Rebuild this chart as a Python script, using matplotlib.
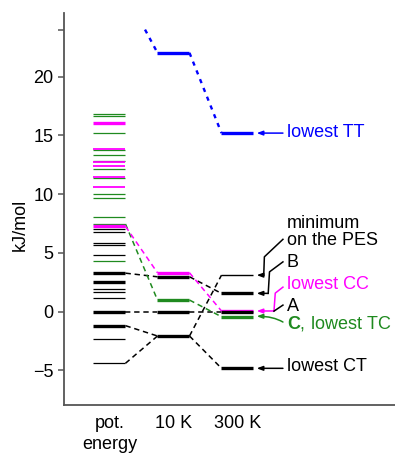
import matplotlib
matplotlib.use('Agg')
import matplotlib.pyplot as plt

plt.rcParams['font.family'] = ['Liberation Sans', 'DejaVu Sans']
plt.rcParams['mathtext.fontset'] = 'custom'
plt.rcParams['mathtext.bf'] = 'Liberation Sans:bold'
plt.rcParams['mathtext.rm'] = 'Liberation Sans'

MAGENTA = '#ff00ff'
GREEN = '#1f8a1f'
BLUE = '#0000ff'

# column labels (x positions 0, 1, 2)
columns = ['pot.\nenergy', '10 K', '300 K']

# potential energy levels, kJ/mol
pot_black_thin = [7.02, 6.80, 5.85, 5.68, 4.80, 1.88, 1.70, 1.12, -2.34, -4.40]
pot_black_thick = [3.27, 2.53, 0.0, -1.20]
pot_green = [16.84, 16.67, 15.22, 13.72, 13.36, 12.79, 12.11, 11.37,
             10.04, 9.67, 8.06, 7.45, 4.30]
pot_magenta = [13.83, 12.70, 12.39, 11.48, 10.60]
pot_magenta_thick = [16.07, 7.25]

# 10 K levels
k10_black = [2.96, 0.0, -2.08]
k10_green = [0.98]
k10_magenta = [3.30]
k10_blue = [22.02]

# 300 K levels
k300_black_thin = [3.10]
k300_black = [1.55, 0.0, -4.83]
k300_green = [-0.44]
k300_magenta = [0.05]
k300_blue = [15.19]

# dashed links: (from column, from value, to column, to value, colour)
links = [
    (0, 3.27, 1, 2.96, 'black'),
    (0, 0.0, 1, 0.0, 'black'),
    (0, -1.20, 1, -2.08, 'black'),
    (0, -4.40, 1, -2.08, 'black'),
    (0, 7.45, 1, 0.98, GREEN),
    (0, 7.25, 1, 3.30, MAGENTA),
    (1, 2.96, 2, 1.55, 'black'),
    (1, 0.0, 2, 0.0, 'black'),
    (1, -2.08, 2, 3.10, 'black'),
    (1, -2.08, 2, -4.83, 'black'),
    (1, 0.98, 2, -0.44, GREEN),
    (1, 3.30, 2, 0.05, MAGENTA),
    (1, 22.02, 2, 15.19, BLUE),
]
# blue TT link coming in from above the pot. energy column
tt_entry = (0.555, 24.0)

HW = 0.25  # half width of a level line


def levels(ax, col, values, color, lw):
    for v in values:
        ax.plot([col - HW, col + HW], [v, v], color=color, lw=lw,
                solid_capstyle='butt', zorder=3)


fig = plt.figure(figsize=(3.95, 4.53), dpi=100)
ax = fig.add_axes([0.162, 0.106, 0.838, 0.865])

for c0, v0, c1, v1, color in links:
    if color == BLUE:
        ax.plot([c0 + HW, c1 - HW], [v0, v1], color=color, lw=1.7,
                dashes=(1.8, 2.2), zorder=2)
    else:
        ax.plot([c0 + HW, c1 - HW], [v0, v1], color=color, lw=1.1,
                dashes=(3.5, 2.5), zorder=2)
ax.plot([tt_entry[0], 1 - HW], [tt_entry[1], k10_blue[0]], color=BLUE,
        lw=1.7, dashes=(1.8, 2.2), zorder=2)

levels(ax, 0, pot_green, GREEN, 0.9)
levels(ax, 0, pot_magenta, MAGENTA, 1.3)
levels(ax, 0, pot_magenta_thick, MAGENTA, 2.4)
levels(ax, 0, pot_black_thin, 'black', 0.9)
levels(ax, 0, pot_black_thick, 'black', 2.4)

levels(ax, 1, k10_blue, BLUE, 2.4)
levels(ax, 1, k10_magenta, MAGENTA, 2.4)
levels(ax, 1, k10_green, GREEN, 2.4)
levels(ax, 1, k10_black, 'black', 2.4)

levels(ax, 2, k300_blue, BLUE, 2.4)
levels(ax, 2, k300_magenta, MAGENTA, 2.4)
levels(ax, 2, k300_green, GREEN, 2.4)
levels(ax, 2, k300_black_thin, 'black', 1.0)
levels(ax, 2, k300_black, 'black', 2.4)

# labels on the right with their connectors
TX = 2.77
TIP = 2.30
FS = 13
arrow = dict(arrowstyle='-|>,head_length=0.35,head_width=0.13',
             lw=1.1, shrinkA=0, shrinkB=0)


def pointer(points, target, color):
    xs = [p[0] for p in points]
    ys = [p[1] for p in points]
    ax.plot(xs, ys, color=color, lw=1.1, zorder=4)
    ax.annotate('', xy=(TIP, target), xytext=points[-1],
                arrowprops=dict(arrow, color=color), zorder=4)


ax.text(TX, 6.75, 'minimum\non the PES', fontsize=FS, va='center',
        linespacing=0.98)
pointer([(2.71, 6.15), (2.42, 4.66), (2.41, 3.10)], 3.10, 'black')

ax.text(TX, 4.2, 'B', fontsize=FS, va='center')
pointer([(2.71, 4.23), (2.50, 3.38), (2.48, 1.55)], 1.55, 'black')

ax.text(TX, 2.34, 'lowest CC', fontsize=FS, va='center', color=MAGENTA)
pointer([(2.71, 2.08), (2.59, 1.57), (2.57, 0.05)], 0.05, MAGENTA)

ax.text(TX, 0.47, 'A', fontsize=FS, va='center')
ax.plot([2.71, 2.57], [0.55, 0.04], color='black', lw=1.1, zorder=4)

ax.text(TX, -0.98, r'$\mathbf{C}$, lowest TC', fontsize=FS, va='center',
        color=GREEN)
ax.annotate('', xy=(TIP, -0.40), xytext=(2.71, -0.89),
            arrowprops=dict(arrow, color=GREEN,
                            connectionstyle='angle3,angleA=150,angleB=0'),
            zorder=4)

ax.text(TX, -4.71, 'lowest CT', fontsize=FS, va='center')
ax.annotate('', xy=(TIP, -4.83), xytext=(2.71, -4.83),
            arrowprops=dict(arrow, color='black'), zorder=4)

ax.text(TX, 15.25, 'lowest TT', fontsize=FS, va='center', color=BLUE)
ax.annotate('', xy=(TIP, 15.19), xytext=(2.71, 15.19),
            arrowprops=dict(arrow, color=BLUE), zorder=4)

# axes styling
ax.set_xlim(-0.711, 4.461)
ax.set_ylim(-7.95, 25.4)
for side in ['top', 'right']:
    ax.spines[side].set_visible(False)
for side in ['left', 'bottom']:
    ax.spines[side].set_color('#555555')
    ax.spines[side].set_linewidth(1.3)

ax.set_yticks([-5, 0, 5, 10, 15, 20, 24])
ax.set_yticklabels(['\u22125', '0', '5', '10', '15', '20', ''])
ax.tick_params(axis='y', colors='#555555', labelcolor='black',
               labelsize=FS, length=4, width=1.1)
ax.set_xticks([0, 1, 2])
ax.set_xticklabels(columns)
ax.tick_params(axis='x', length=0, pad=7, labelsize=FS)
for lab in ax.get_xticklabels():
    lab.set_linespacing(1.35)

ax.set_ylabel('kJ/mol', fontsize=FS)
ax.yaxis.set_label_coords(-0.105, 0.46)

fig.savefig('out.png', dpi=100)
